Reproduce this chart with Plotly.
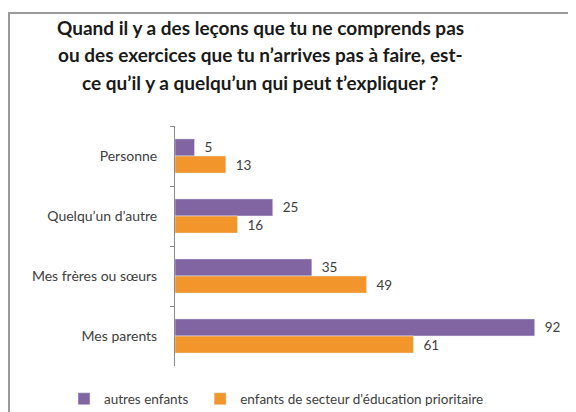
import plotly.graph_objects as go

# Data
categories = ["Personne", "Quelqu’un d’autre", "Mes frères ou sœurs", "Mes parents"]
autres = [5, 25, 35, 92]
prioritaire = [13, 16, 49, 61]
series_names = ["autres enfants", "enfants de secteur d'éducation prioritaire"]
title_lines = [
    "Quand il y a des leçons que tu ne comprends pas",
    "ou des exercices que tu n’arrives pas à faire, est-",
    "ce qu’il y a quelqu’un qui peut t’expliquer ?",
]

W, H = 576, 412
OFF = 8  # the page puts the figure 8px in from the top-left corner
L, R, T, B = 175 - OFF, 10 + OFF, 126 - OFF, 46 + OFF
PW, PH = W - L - R, H - T - B


def px_x(x):
    return (x - OFF - L) / PW


def px_y(y):
    return (H - B - (y - OFF)) / PH


fig = go.Figure()
fig.add_trace(go.Bar(y=categories, x=autres, name=series_names[0] + "\u00a0\u00a0",
                     orientation="h", marker_color="#8165A2", text=autres,
                     texttemplate="\u00a0\u00a0%{x}", textposition="outside",
                     cliponaxis=False))
fig.add_trace(go.Bar(y=categories, x=prioritaire, name=series_names[1],
                     orientation="h", marker_color="#F2952B", text=prioritaire,
                     texttemplate="\u00a0\u00a0%{x}", textposition="outside",
                     cliponaxis=False))
fig.update_traces(textfont=dict(size=13.5, color="#404040"), hoverinfo="skip")

fig.update_layout(
    width=W, height=H,
    margin=dict(l=L, r=R, t=T, b=B, autoexpand=False),
    paper_bgcolor="white", plot_bgcolor="white",
    font=dict(family="Lato, sans-serif", size=14, color="#404040"),
    barmode="group", bargap=0.43, bargroupgap=0,
    showlegend=True,
    legend=dict(orientation="h", xref="paper", yref="paper",
                x=px_x(64), xanchor="left",
                y=px_y(399), yanchor="middle",
                font=dict(size=13.5, color="#404040"), traceorder="normal"),
)
fig.update_xaxes(range=[0, 100], visible=False)
fig.update_yaxes(autorange="reversed", showline=True, linecolor="#8a8a8a", linewidth=1,
                 ticks="outside", tickson="boundaries", ticklen=4, tickcolor="#8a8a8a",
                 ticklabelstandoff=14, showgrid=False, zeroline=False)

# border of the original chart frame
fig.add_shape(type="rect", xref="paper", yref="paper",
              x0=px_x(9), y0=px_y(H + 20), x1=px_x(W + 20), y1=px_y(13),
              line=dict(color="#9a9a9a", width=2), layer="below")

for i, line in enumerate(title_lines):
    fig.add_annotation(text=line, xref="paper", yref="paper",
                       x=px_x(260), y=px_y(28 + 27 * i), showarrow=False,
                       xanchor="center", yanchor="middle",
                       font=dict(family="Lato, sans-serif", size=19, color="#1a1a1a",
                                 weight="bold"))

fig.write_html("out.html")
